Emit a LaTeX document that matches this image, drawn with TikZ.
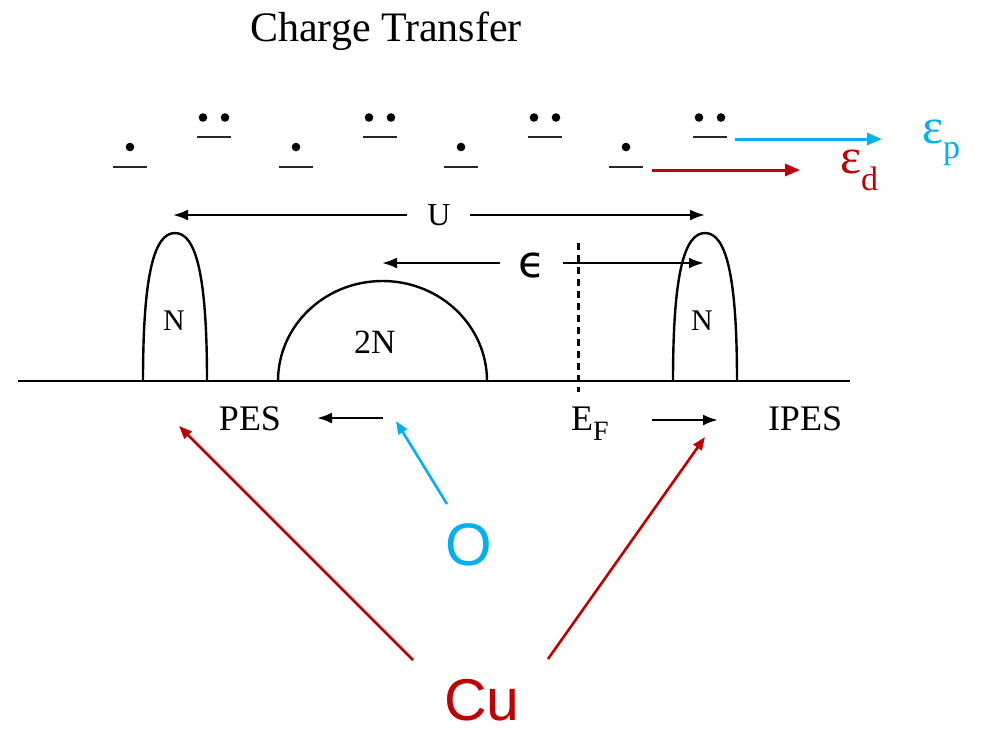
\documentclass[tikz,border=0pt]{standalone}
\usepackage{fontspec}
\setmainfont{Liberation Serif}
\newfontfamily\arialf{Liberation Sans}
\newfontfamily\djv{DejaVu Sans}
\usetikzlibrary{arrows.meta}
\definecolor{myblue}{RGB}{0,176,240}
\definecolor{myred}{RGB}{192,0,0}
\tikzset{
  ink/.style={line width=2.4pt, black},
  blk/.style={ink, -{Latex[length=15pt,width=11pt]}},
  bluearr/.style={line width=3pt, myblue, -{Triangle[length=15pt,width=12pt]}},
  redarr/.style={line width=3pt, myred, -{Triangle[length=15pt,width=12pt]}},
  lvl/.style={line width=2.6pt, black!85},
  dotc/.style={fill=black, draw=none},
  lab/.style={inner sep=0pt, anchor=base},
}
\begin{document}
\begin{tikzpicture}[x=1pt,y=-1pt]
\useasboundingbox (0,0) rectangle (982,732);
% title
\node[lab] (title) at (386,41) {\fontsize{42}{42}\selectfont Charge Transfer};
% levels: singles
\foreach \x in {130,296,461,626} {
  \draw[lvl] (\x-17,167) -- (\x+17,167);
  \fill[dotc] (\x,147) circle (4.3);
}
% levels: doubles
\foreach \x in {214,380,545,710} {
  \draw[lvl] (\x-17,137) -- (\x+17,137);
  \fill[dotc] (\x-11,117.5) circle (4.3);
  \fill[dotc] (\x+11,117.5) circle (4.3);
}
% epsilon_p / epsilon_d arrows
\coordinate (bp0) at (735,139);
\coordinate (bp1) at (882,139);
\coordinate (rd0) at (652,170);
\coordinate (rd1) at (800,170);
\draw[bluearr] (bp0) -- (bp1);
\draw[redarr] (rd0) -- (rd1);
\node[lab, anchor=base west, text=myblue] (ep) at (922,143) {\fontsize{50}{50}\selectfont ε\raisebox{-15pt}{\fontsize{34}{34}\selectfont p}};
\node[lab, anchor=base west, text=myred] (ed) at (840,173) {\fontsize{50}{50}\selectfont ε\raisebox{-17pt}{\fontsize{34}{34}\selectfont d}};
% U arrow
\node[lab] (U) at (439,225) {\fontsize{32}{32}\selectfont U};
\coordinate (uL) at (173,215);
\coordinate (uR) at (705,215);
\draw[blk] (407,215) -- (uL);
\draw[blk] (470,215) -- (uR);
% epsilon arrow
\node[inner sep=0pt] (eps) at (532,265) {\djv\fontsize{44}{44}\selectfont ϵ};
\coordinate (eL) at (382,263);
\coordinate (eR) at (704,263);
\draw[blk] (500,263) -- (eL);
\draw[blk] (563,263) -- (eR);
% baseline
\draw[line width=2.8pt] (18,381) -- (850,381);
% Fermi level dashed
\draw[line width=3pt, dash pattern=on 7pt off 5pt] (578,243) -- (578,392);
% left N peak
\draw[ink] (143,381) .. controls (143,275) and (154,233) .. (175,233) .. controls (196,233) and (207,275) .. (207,381);
\node[lab] (N1) at (174,330) {\fontsize{30}{30}\selectfont N};
% right N peak
\draw[ink] (673,381) .. controls (673,275) and (684,233) .. (705,233) .. controls (726,233) and (737,275) .. (737,381);
\node[lab] (N2) at (702,330) {\fontsize{30}{30}\selectfont N};
% 2N dome
\draw[ink] (278,381) arc[start angle=180, end angle=360, x radius=104.5, y radius=100];
\node[lab] (N3) at (375,353) {\fontsize{34}{34}\selectfont 2N};
% bottom labels
\node[lab] (PES) at (250,430) {\fontsize{36}{36}\selectfont PES};
\draw[blk] (383,418) -- (317,418);
\node[lab, anchor=base west] (EF) at (571,430) {\fontsize{36}{36}\selectfont E\raisebox{-10pt}{\fontsize{28}{28}\selectfont F}};
\draw[blk] (652,420) -- (718,420);
\node[lab] (IPES) at (805,430) {\fontsize{36}{36}\selectfont IPES};
% O and Cu
\node[lab, text=myblue] (O) at (469,565) {\arialf\fontsize{60}{60}\selectfont O};
\node[lab, text=myred] (Cu) at (482,720) {\arialf\fontsize{59}{59}\selectfont Cu};
\coordinate (o0) at (447,504);
\coordinate (o1) at (396,421);
\draw[bluearr, line width=2.6pt, -{Triangle[length=13pt,width=10pt]}] (o0) -- (o1);
\coordinate (c0) at (413,660);
\coordinate (c1) at (179,426);
\coordinate (c2) at (548,659);
\coordinate (c3) at (705,437);
\draw[redarr, line width=2.6pt, -{Triangle[length=13pt,width=10pt]}] (c0) -- (c1);
\draw[redarr, line width=2.6pt, -{Triangle[length=13pt,width=10pt]}] (c2) -- (c3);
\end{tikzpicture}
\end{document}
